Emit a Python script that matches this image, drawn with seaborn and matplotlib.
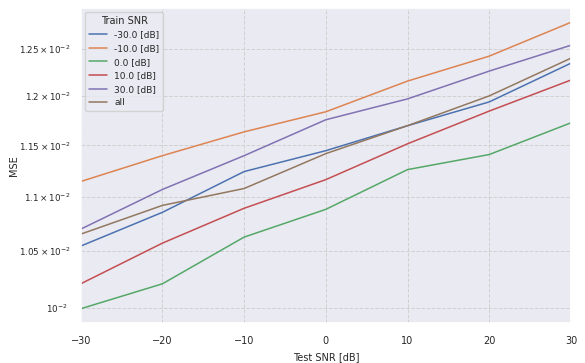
import matplotlib
matplotlib.use("Agg")
import matplotlib.pyplot as plt
import numpy as np
import pandas as pd
import seaborn as sns

test_snr = [-30, -20, -10, 0, 10, 20, 30]
train_labels = ["-30.0 [dB]", "-10.0 [dB]", "0.0 [dB]", "10.0 [dB]", "30.0 [dB]", "all"]

mse_m30 = [1.0545e-2, 1.0856e-2, 1.1244e-2, 1.1448e-2, 1.1697e-2, 1.1939e-2, 1.2344e-2]
mse_m10 = [1.1148e-2, 1.1399e-2, 1.1635e-2, 1.1838e-2, 1.2155e-2, 1.2419e-2, 1.2786e-2]
mse_0 = [0.9991e-2, 1.0208e-2, 1.0627e-2, 1.0884e-2, 1.1263e-2, 1.1410e-2, 1.1726e-2]
mse_10 = [1.0208e-2, 1.0572e-2, 1.0894e-2, 1.1166e-2, 1.1516e-2, 1.1845e-2, 1.2166e-2]
mse_30 = [1.0700e-2, 1.1072e-2, 1.1399e-2, 1.1757e-2, 1.1970e-2, 1.2260e-2, 1.2536e-2]
mse_all = [1.0654e-2, 1.0921e-2, 1.1081e-2, 1.1419e-2, 1.1697e-2, 1.2001e-2, 1.2397e-2]

series = [mse_m30, mse_m10, mse_0, mse_10, mse_30, mse_all]
df = pd.DataFrame(
    {
        "Test SNR [dB]": np.tile(test_snr, len(train_labels)),
        "MSE": np.concatenate(series),
        "Train SNR": np.repeat(train_labels, len(test_snr)),
    }
)

sns.set_theme(style="darkgrid")
plt.rcParams.update(
    {
        "font.size": 7,
        "axes.labelsize": 7,
        "xtick.labelsize": 7,
        "ytick.labelsize": 6.3,
        "legend.fontsize": 6.5,
        "legend.title_fontsize": 7,
    }
)

fig, ax = plt.subplots(figsize=(5.85, 3.63), dpi=100)
sns.lineplot(
    data=df,
    x="Test SNR [dB]",
    y="MSE",
    hue="Train SNR",
    hue_order=train_labels,
    palette="deep",
    linewidth=1.1,
    ax=ax,
)
ax.set_yscale("log")
ax.set_xlim(-30, 30)
ax.grid(which="both", linestyle="--", color="#d0d0d0", linewidth=0.7)
ax.legend(title="Train SNR", loc="upper left", labelspacing=0.5)
ax.yaxis.labelpad = 0
fig.subplots_adjust(left=0.138, right=0.976, bottom=0.110, top=0.978)
fig.savefig("out.png")
